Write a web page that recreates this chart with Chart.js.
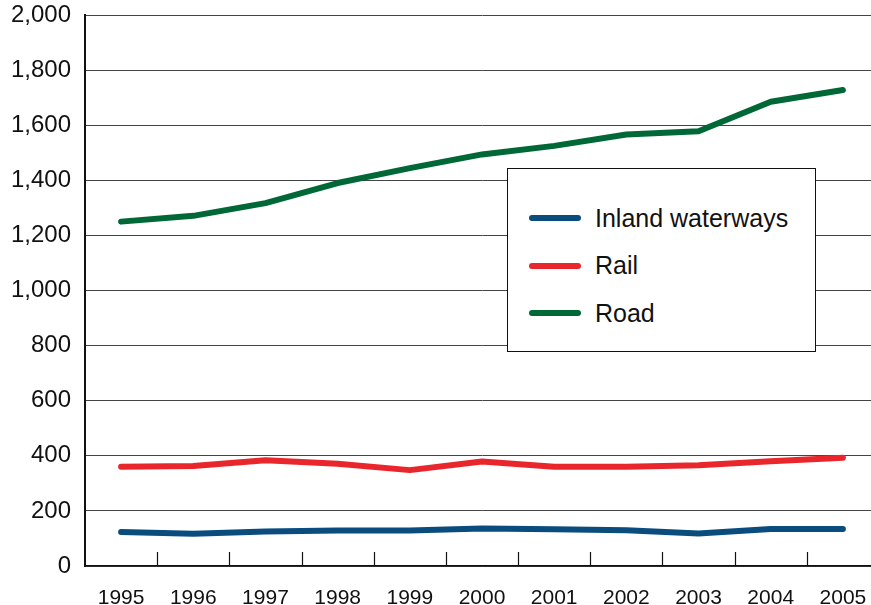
<!DOCTYPE html>
<html>
<head>
<meta charset="utf-8">
<script src="https://cdn.jsdelivr.net/npm/chart.js@4/dist/chart.umd.min.js"></script>
<style>
  html, body { margin: 0; padding: 0; background: #fff; overflow: hidden; }
  #wrap { position: relative; width: 879px; height: 605px; }
  #legend {
    position: absolute; left: 507px; top: 168px; width: 307px; height: 182px;
    border: 1.5px solid #111; background: #fff; box-sizing: content-box;
    font-family: "Liberation Sans", Arial, sans-serif; font-size: 25px; color: #111;
  }
  .item { position: absolute; left: 21px; height: 30px; display: flex; align-items: center; }
  .swatch { width: 52px; height: 6px; border-radius: 3px; margin-right: 14px; }
</style>
</head>
<body>
<div id="wrap">
  <canvas id="c" width="879" height="605"></canvas>
  <div id="legend"></div>
</div>
<script>
const years = ["1995","1996","1997","1998","1999","2000","2001","2002","2003","2004","2005"];
const inlandWaterways = [123, 117, 125, 129, 129, 136, 133, 130, 118, 134, 134];
const rail = [360, 363, 384, 371, 348, 379, 360, 360, 366, 380, 393];
const road = [1250, 1271, 1317, 1390, 1444, 1494, 1525, 1566, 1578, 1685, 1728];
const seriesNames = ["Inland waterways", "Rail", "Road"];
const seriesColors = ["#0a4c7e", "#e8262b", "#006837"];
const yTicks = [0, 200, 400, 600, 800, 1000, 1200, 1400, 1600, 1800, 2000];

const FONT = '"Liberation Sans", Arial, sans-serif';

const innerTicks = {
  id: 'innerTicks',
  afterDraw(chart) {
    const x = chart.scales.x, ctx = chart.ctx, bottom = chart.chartArea.bottom;
    ctx.save();
    ctx.strokeStyle = '#111';
    ctx.lineWidth = 1.2;
    for (let i = 0; i < years.length - 1; i++) {
      const px = Math.round((x.getPixelForTick(i) + x.getPixelForTick(i + 1)) / 2) + 0.5;
      ctx.beginPath();
      ctx.moveTo(px, bottom);
      ctx.lineTo(px, bottom - 14);
      ctx.stroke();
    }
    ctx.restore();
  }
};

const seriesData = [inlandWaterways, rail, road];
const chart = new Chart(document.getElementById('c'), {
  type: 'line',
  data: {
    labels: years,
    datasets: seriesNames.map((n, i) => ({
      label: n,
      data: seriesData[i],
      borderColor: seriesColors[i],
      backgroundColor: seriesColors[i],
      borderWidth: 6,
      borderCapStyle: 'round',
      borderJoinStyle: 'round',
      pointRadius: 0,
      tension: 0,
      fill: false
    }))
  },
  options: {
    responsive: false,
    animation: false,
    layout: { padding: { top: 15, right: 0, bottom: 0, left: 0 } },
    plugins: { legend: { display: false }, tooltip: { enabled: false } },
    scales: {
      x: {
        type: 'category',
        offset: true,
        grid: { drawOnChartArea: false, drawTicks: false, offset: true },
        border: { display: true, color: '#111', width: 1.5 },
        ticks: { color: '#111', font: { family: FONT, size: 21 }, padding: 20, maxRotation: 0, autoSkip: false },
        afterFit(s) { s.height = 39; s.paddingLeft = 0; s.paddingRight = 0; }
      },
      y: {
        min: 0, max: 2000,
        afterBuildTicks(s) { s.ticks = yTicks.map(v => ({ value: v })); },
        grid: { color: '#444', lineWidth: 1, drawTicks: false },
        border: { display: true, color: '#111', width: 2 },
        ticks: {
          color: '#111', font: { family: FONT, size: 24 }, padding: 14,
          callback: v => Number(v).toLocaleString('en-US')
        },
        afterFit(s) { s.width = 85; s.paddingTop = 0; s.paddingBottom = 0; }
      }
    }
  },
  plugins: [innerTicks]
});

// HTML legend built from the datasets
const leg = document.getElementById('legend');
chart.data.datasets.forEach((ds, i) => {
  const it = document.createElement('div');
  it.className = 'item';
  it.style.top = (34 + i * 47.5) + 'px';
  const sw = document.createElement('div');
  sw.className = 'swatch';
  sw.style.background = ds.borderColor;
  const tx = document.createElement('span');
  tx.textContent = ds.label;
  it.appendChild(sw); it.appendChild(tx);
  leg.appendChild(it);
});
</script>
</body>
</html>
